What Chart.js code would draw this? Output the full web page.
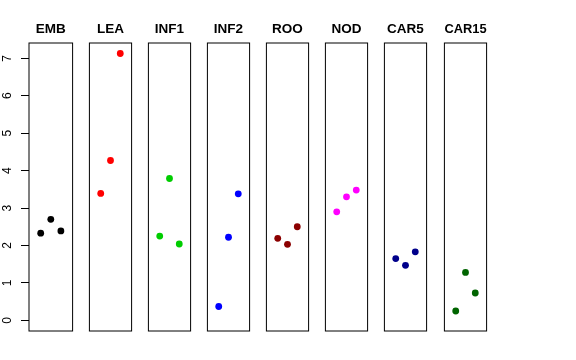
<!DOCTYPE html>
<html>
<head>
<meta charset="utf-8">
<script src="https://cdn.jsdelivr.net/npm/chart.js@4/dist/chart.umd.min.js"></script>
<style>
  html, body { margin: 0; padding: 0; background: #ffffff; }
  #wrap { position: relative; width: 576px; height: 360px; overflow: hidden; background: #ffffff; }
  canvas { position: absolute; top: 0; }
</style>
</head>
<body>
<div id="wrap"></div>
<script>
// ---- data ----
const panels = ['EMB', 'LEA', 'INF1', 'INF2', 'ROO', 'NOD', 'CAR5', 'CAR15'];
const positions = [1, 2, 3];
const EMB   = [2.33, 2.70, 2.39];
const LEA   = [3.39, 4.27, 7.13];
const INF1  = [2.25, 3.79, 2.04];
const INF2  = [0.37, 2.22, 3.38];
const ROO   = [2.19, 2.03, 2.50];
const NOD   = [2.90, 3.30, 3.48];
const CAR5  = [1.65, 1.47, 1.83];
const CAR15 = [0.25, 1.28, 0.73];
const seriesValues = [EMB, LEA, INF1, INF2, ROO, NOD, CAR5, CAR15];
const yTickLabels = [0, 1, 2, 3, 4, 5, 6, 7];
const colors = ['#000000', '#FF0000', '#00CD00', '#0000FF', '#8B0000', '#FF00FF', '#00008B', '#006400'];

// ---- layout ----
const panelLefts = [29, 88, 147, 206, 265, 324, 383, 443];
const panelWidth = 45;
const pad = 2;
const yMin = -0.285, yMax = 7.41;
const FONT = "'Liberation Sans', Arial, Helvetica, sans-serif";

const boxPlugin = {
  id: 'box',
  afterDatasetsDraw(chart) {
    const a = chart.chartArea, c = chart.ctx;
    c.save();
    c.strokeStyle = '#000';
    c.lineWidth = 1;
    c.strokeRect(a.left, a.top, a.right - a.left, a.bottom - a.top);
    c.restore();
  }
};

const rotLabelPlugin = {
  id: 'rotLabels',
  afterDraw(chart) {
    const s = chart.scales.y;
    if (!s || !s.options.display) return;
    const c = chart.ctx;
    c.save();
    c.fillStyle = '#000';
    c.font = '12px ' + FONT;
    c.textAlign = 'center';
    c.textBaseline = 'middle';
    s.ticks.forEach((t, i) => {
      const y = s.getPixelForTick(i);
      c.save();
      c.translate(7.5, y);
      c.rotate(-Math.PI / 2);
      c.fillText(String(t.value), 0, 0);
      c.restore();
    });
    c.restore();
  }
};

const wrap = document.getElementById('wrap');
panels.forEach((name, i) => {
  const first = i === 0;
  const cv = document.createElement('canvas');
  const left = first ? 0 : panelLefts[i] - pad;
  const width = first ? panelLefts[0] + panelWidth + pad : panelWidth + 2 * pad;
  cv.width = width; cv.height = 360;
  cv.style.left = left + 'px';
  cv.style.width = width + 'px';
  cv.style.height = '360px';
  wrap.appendChild(cv);

  const yScale = {
    type: 'linear',
    display: first,
    min: yMin, max: yMax,
    afterBuildTicks: (s) => { s.ticks = yTickLabels.map(v => ({ value: v })); },
    border: { display: false },
    grid: { drawOnChartArea: false, drawTicks: true, tickLength: 8, color: '#000', lineWidth: 1 },
    ticks: { display: false }
  };
  if (first) yScale.afterFit = (s) => { s.width = panelLefts[0]; };

  new Chart(cv, {
    type: 'scatter',
    data: {
      datasets: [{
        label: name,
        data: positions.map((p, k) => ({ x: p, y: seriesValues[i][k] })),
        pointRadius: 3.4,
        pointHoverRadius: 3.4,
        pointBorderWidth: 0,
        pointBackgroundColor: colors[i],
        pointBorderColor: colors[i]
      }]
    },
    options: {
      responsive: false,
      animation: false,
      devicePixelRatio: 1,
      layout: { padding: { left: first ? 0 : pad, right: pad, top: 21.1, bottom: 29 } },
      plugins: {
        legend: { display: false },
        tooltip: { enabled: false },
        title: {
          display: true,
          text: name,
          fullSize: false,
          color: '#000',
          font: { family: FONT, size: 13.5, weight: 'bold', lineHeight: 1.2 },
          padding: { top: 0, bottom: 5.7 }
        }
      },
      scales: {
        x: { type: 'linear', display: false, min: -0.16, max: 4.16 },
        y: yScale
      }
    },
    plugins: [boxPlugin, rotLabelPlugin]
  });
});
</script>
</body>
</html>
